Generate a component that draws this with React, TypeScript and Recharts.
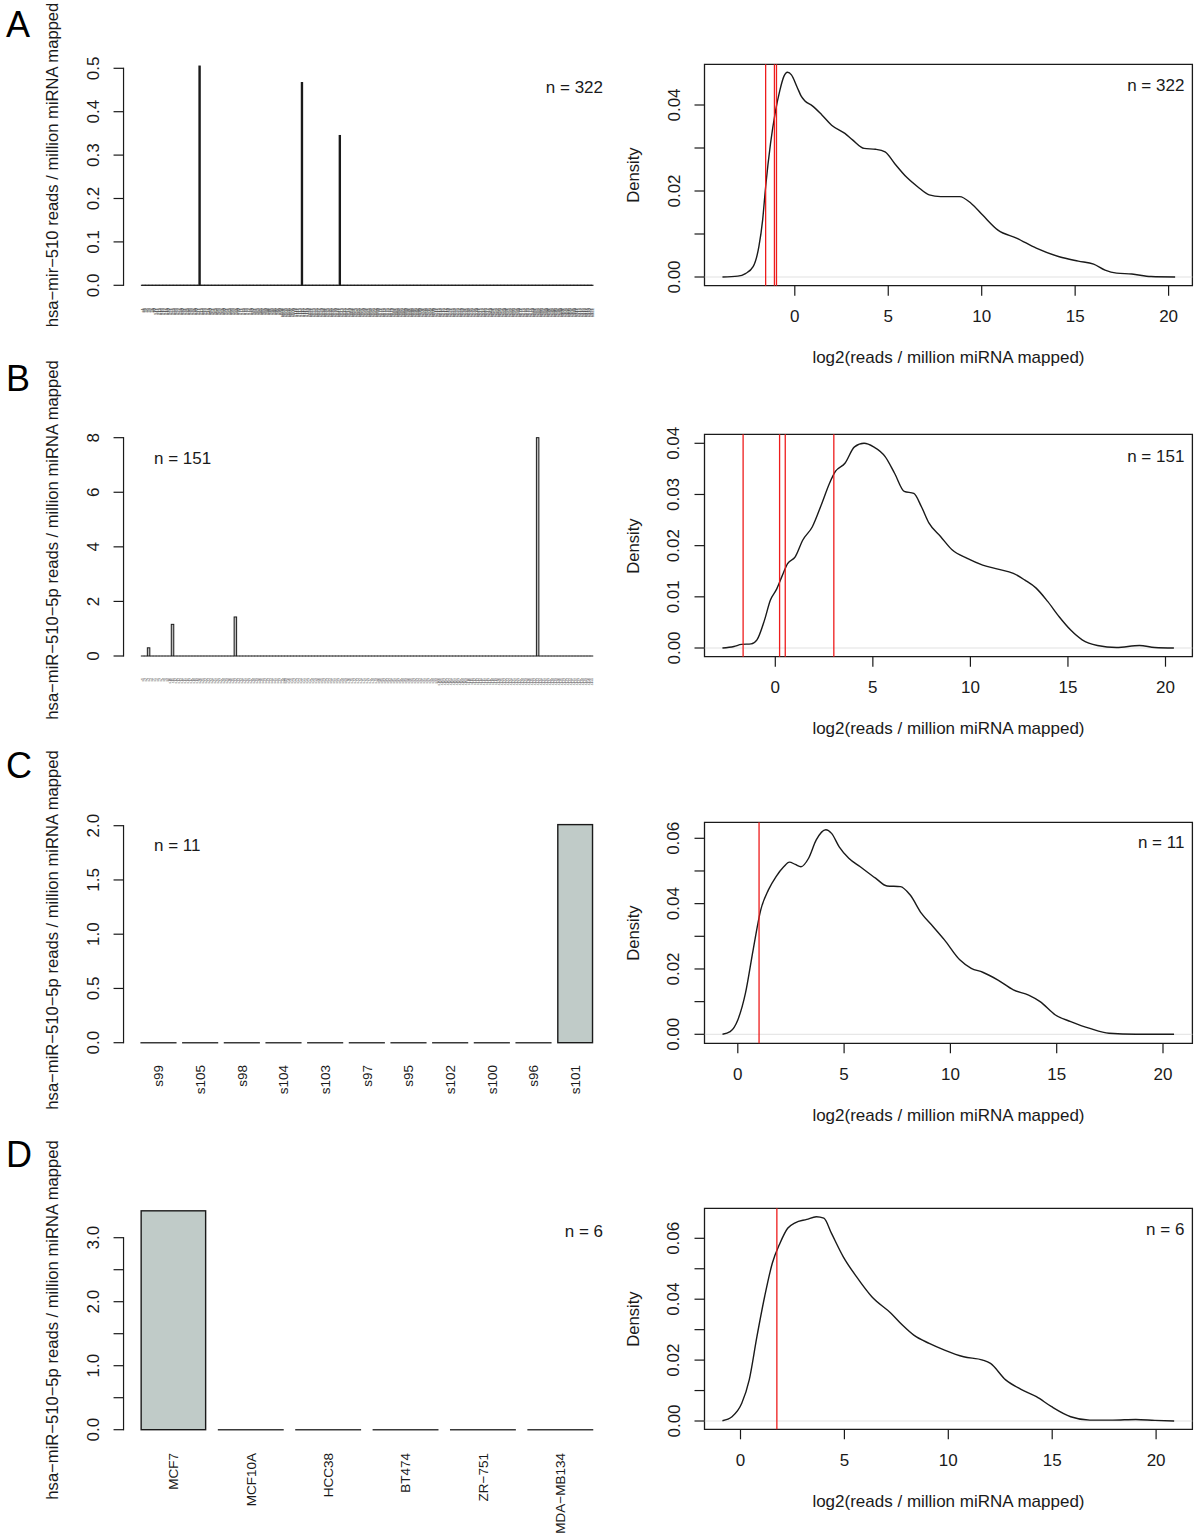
import React from "react";
import {
  BarChart,
  Bar,
  LineChart,
  Line,
  XAxis,
  YAxis,
  ReferenceLine,
  ReferenceArea,
} from "recharts";

const FONT = '"Liberation Sans", Arial, Helvetica, sans-serif';
const INK = "#1a1a1a";
const FS = 17;
const TITLE_FS = 16.6;

// ---------- data ----------

// A: hsa-mir-510, 322 samples, only three non-zero
const aSampleCount = 322;
const aHitIndex = [41, 114, 141];
const aHitValue = [0.505, 0.467, 0.345];
const aYTicks = [0, 0.1, 0.2, 0.3, 0.4, 0.5];
const aYLabels = ["0.0", "0.1", "0.2", "0.3", "0.4", "0.5"];
const aDensX = [
  -3.87, -3.05, -2.64, -2.23, -1.92, -1.72, -1.56, -1.3, -1.04, -0.8, -0.59,
  -0.39, -0.18, 0.12, 0.35, 0.53, 0.94, 1.45, 1.97, 2.68, 3.09, 3.71, 4.32,
  4.83, 5.34, 5.96, 6.57, 7.19, 7.8, 8.82, 9.44, 10.05, 10.87, 11.89, 12.92,
  14.15, 15.17, 15.99, 16.6, 17.22, 18.03, 19.06, 20.35,
];
const aDensY = [
  0, 0.0002, 0.0008, 0.0024, 0.0071, 0.0133, 0.021, 0.031, 0.0384, 0.0434,
  0.0466, 0.0476, 0.047, 0.0442, 0.042, 0.041, 0.0398, 0.0377, 0.0353, 0.0334,
  0.0319, 0.0299, 0.0297, 0.0291, 0.0264, 0.0233, 0.021, 0.0191, 0.0187,
  0.0187, 0.0171, 0.0144, 0.0109, 0.009, 0.0067, 0.0047, 0.0037, 0.003, 0.0016,
  0.0009, 0.0007, 0.0001, 0,
];
const aMarkers = [-1.56, -1.09, -0.98];

// B: hsa-miR-510-5p, 151 samples
const bSampleCount = 151;
const bHitIndex = [2, 10, 31, 132];
const bHitValue = [0.3, 1.16, 1.43, 8.0];
const bYTicks = [0, 2, 4, 6, 8];
const bYLabels = ["0", "2", "4", "6", "8"];
const bDensX = [
  -2.71, -2.12, -1.73, -1.24, -0.94, -0.55, -0.25, 0.04, 0.33, 0.63, 1.02,
  1.41, 1.9, 2.39, 2.78, 3.08, 3.57, 4.06, 4.55, 5.04, 5.63, 6.12, 6.61, 7.1,
  7.49, 7.88, 8.47, 9.06, 9.84, 10.63, 11.41, 12.2, 12.78, 13.37, 13.96, 14.55,
  15.14, 15.73, 16.51, 17.49, 18.67, 19.45, 20.43,
];
const bDensY = [
  0, 0.0003, 0.0007, 0.0008, 0.0016, 0.0055, 0.0094, 0.0113, 0.0139, 0.0165,
  0.0178, 0.0211, 0.0237, 0.0283, 0.0322, 0.0345, 0.0361, 0.0393, 0.04,
  0.0393, 0.0374, 0.0341, 0.0306, 0.0302, 0.0276, 0.0244, 0.0218, 0.0192,
  0.0175, 0.0162, 0.0154, 0.0146, 0.0133, 0.0117, 0.0091, 0.0061, 0.0035,
  0.0016, 0.0005, 0.0001, 0.0005, 0.0001, 0,
];
const bMarkers = [-1.65, 0.22, 0.51, 3.0];

// C: 11 samples
const cNames = ["s99", "s105", "s98", "s104", "s103", "s97", "s95", "s102", "s100", "s96", "s101"];
const cValues = [0, 0, 0, 0, 0, 0, 0, 0, 0, 0, 2.01];
const cYTicks = [0, 0.5, 1, 1.5, 2];
const cYLabels = ["0.0", "0.5", "1.0", "1.5", "2.0"];
const cDensX = [
  -0.72, -0.36, 0, 0.36, 0.72, 1.08, 1.44, 1.8, 2.16, 2.43, 2.7, 2.97, 3.33,
  3.69, 4.14, 4.41, 4.77, 5.22, 5.76, 6.48, 7.02, 7.65, 8.1, 8.64, 9.18, 9.72,
  10.44, 10.98, 11.52, 12.24, 12.96, 13.68, 14.22, 14.94, 15.66, 16.56, 17.46,
  18.72, 20.52,
];
const cDensY = [
  0, 0.0008, 0.0044, 0.0126, 0.0258, 0.0381, 0.0442, 0.0483, 0.0513, 0.0527,
  0.052, 0.0513, 0.0539, 0.0595, 0.0626, 0.0615, 0.0574, 0.0539, 0.0513,
  0.0478, 0.0454, 0.0452, 0.0427, 0.037, 0.033, 0.0289, 0.0228, 0.0202, 0.019,
  0.0166, 0.0136, 0.012, 0.01, 0.0059, 0.0039, 0.0018, 0.0003, 0, 0,
];
const cMarkers = [1.0];

// D: cell lines
const dNames = ["MCF7", "MCF10A", "HCC38", "BT474", "ZR\u2212751", "MDA\u2212MB134"];
const dValues = [3.42, 0, 0, 0, 0, 0];
const dYTicks = [0, 0.5, 1, 1.5, 2, 2.5, 3];
const dYLabels = ["0.0", "", "1.0", "", "2.0", "", "3.0"];
const dDensX = [
  -0.87, -0.41, 0.06, 0.42, 0.79, 1.16, 1.53, 1.9, 2.27, 2.63, 3.19, 3.65,
  4.01, 4.38, 4.94, 5.58, 6.32, 7.24, 7.79, 8.34, 9.08, 9.82, 10.74, 11.66,
  12.03, 12.76, 13.5, 14.24, 14.97, 15.89, 16.81, 17.92, 19.02, 19.94, 20.87,
];
const dDensY = [
  0.0001, 0.0014, 0.0058, 0.0135, 0.0277, 0.0408, 0.0518, 0.0584, 0.0633,
  0.0651, 0.0662, 0.0671, 0.0666, 0.0616, 0.054, 0.0474, 0.0408, 0.0354,
  0.0315, 0.0282, 0.0255, 0.0233, 0.0211, 0.02, 0.0189, 0.0135, 0.0104, 0.008,
  0.0047, 0.0014, 0.0003, 0.0003, 0.0005, 0.0002, 0,
];
const dMarkers = [1.75];

const densXTicks = [0, 5, 10, 15, 20];
const densTicks4 = [0, 0.01, 0.02, 0.03, 0.04];
const densTicks6 = [0, 0.01, 0.02, 0.03, 0.04, 0.05, 0.06];

// ---------- layout ----------
const BAR_LEFT = 141.6;
const BAR_RIGHT = 593;
const BOX_LEFT = 704.5;
const BOX_RIGHT = 1192.4;
const LEFT_W = 615;

const barRows = {
  A: { top: 0, height: 340, zeroPx: 285.3, ppu: 434, ymax: 0.505, labelTop: 308 },
  B: { top: 345, height: 390, zeroPx: 656, ppu: 27.29, ymax: 8.0, labelTop: 678 },
  C: { top: 740, height: 400, zeroPx: 1042.7, ppu: 108.5, ymax: 2.01, labelTop: 1065 },
  D: { top: 1140, height: 399, zeroPx: 1429.7, ppu: 64.0, ymax: 3.42, labelTop: 1453 },
};

const densRows = {
  A: { top: 0, height: 340, boxTop: 64.3, boxBottom: 285.7, zeroPx: 277, yppu: 4300, x0: 794.8, xppu: 18.69 },
  B: { top: 345, height: 390, boxTop: 434.3, boxBottom: 656.7, zeroPx: 648, yppu: 5117.5, x0: 775.3, xppu: 19.51 },
  C: { top: 740, height: 400, boxTop: 822.3, boxBottom: 1043.3, zeroPx: 1034.3, yppu: 3266.7, x0: 737.8, xppu: 21.26 },
  D: { top: 1140, height: 399, boxTop: 1208.3, boxBottom: 1429.3, zeroPx: 1421, yppu: 3045, x0: 740.5, xppu: 20.78 },
};

// ---------- helpers ----------
function sparse(count: number, idx: number[], vals: number[]) {
  return Array.from({ length: count }, (_, i) => {
    const k = idx.indexOf(i);
    return { name: "s" + (i + 1), value: k >= 0 ? vals[k] : 0 };
  });
}

function yTick(ticks: number[], labels: string[], axisSpan: number) {
  return (props: any) => {
    const { x, y, payload } = props;
    const i = ticks.findIndex((t) => Math.abs(t - payload.value) < 1e-9);
    const lab = labels[i];
    const lx = x - 30.5;
    return (
      <g>
        <line x1={x - 10} x2={x} y1={y} y2={y} stroke={INK} strokeWidth={1.2} />
        {i === 0 && axisSpan > 0 ? (
          <line x1={x} x2={x} y1={y + 0.6} y2={y - axisSpan - 0.6} stroke={INK} strokeWidth={1.2} />
        ) : null}
        {lab ? (
          <text
            x={lx}
            y={y}
            transform={`rotate(-90 ${lx} ${y})`}
            textAnchor="middle"
            dominantBaseline="central"
            fontSize={FS}
            fontFamily={FONT}
            fill={INK}
          >
            {lab}
          </text>
        ) : null}
      </g>
    );
  };
}

function nameTick(offset: number, size: number, color: string) {
  return (props: any) => {
    const { x, y, payload } = props;
    const ty = y + offset;
    return (
      <text
        x={x}
        y={ty}
        transform={`rotate(-90 ${x} ${ty})`}
        textAnchor="end"
        dominantBaseline="central"
        fontSize={size}
        fontFamily={FONT}
        fill={color}
      >
        {payload.value}
      </text>
    );
  };
}

function densXTick(props: any) {
  const { x, y, payload } = props;
  return (
    <g>
      <line x1={x} x2={x} y1={y} y2={y + 10} stroke={INK} strokeWidth={1.2} />
      <text x={x} y={y + 31} textAnchor="middle" dominantBaseline="central" fontSize={FS} fontFamily={FONT} fill={INK}>
        {payload.value}
      </text>
    </g>
  );
}

function barShape(fill: string, zeroColor: string, lineW: number) {
  return (p: any) => {
    const { x, y, width, height } = p;
    if (!height || Math.abs(height) < 0.01) {
      return (
        <line x1={x} x2={x + width} y1={y} y2={y} stroke={zeroColor} strokeWidth={lineW} strokeLinecap="square" />
      );
    }
    return <rect x={x} y={y} width={width} height={height} fill={fill} stroke={INK} strokeWidth={lineW} />;
  };
}

function BarPanel(props: {
  data: { name: string; value: number }[];
  row: { top: number; height: number; zeroPx: number; ppu: number; ymax: number; labelTop: number };
  yTicks: number[];
  yLabels: string[];
  labelSize: number;
  labelColor: string;
  fill: string;
  zeroColor: string;
  lineW: number;
}) {
  const { data, row } = props;
  const n = data.length;
  const span = BAR_RIGHT - BAR_LEFT;
  const w = span / (n + 0.2 * (n - 1));
  const ext = 0.04 * span;
  const pad = ext - 0.1 * w;
  const plotLeft = BAR_LEFT - ext;
  const plotRight = BAR_RIGHT + ext;
  const plotTop = row.zeroPx - 1.04 * row.ymax * row.ppu;
  const plotBottom = row.zeroPx + 0.04 * row.ymax * row.ppu;
  const axisSpan = props.yTicks[props.yTicks.length - 1] * row.ppu;
  return (
    <div style={{ position: "absolute", left: 0, top: row.top }}>
      <BarChart
        width={LEFT_W}
        height={row.height}
        data={data}
        margin={{ top: plotTop - row.top, right: LEFT_W - plotRight, bottom: 0, left: 0 }}
      >
        <XAxis
          dataKey="name"
          type="category"
          interval={0}
          axisLine={false}
          tickLine={false}
          tickSize={0}
          tickMargin={0}
          height={row.top + row.height - plotBottom}
          padding={{ left: pad, right: pad }}
          tick={nameTick(row.labelTop - plotBottom, props.labelSize, props.labelColor)}
        />
        <YAxis
          type="number"
          width={plotLeft}
          domain={[-0.04 * row.ymax, 1.04 * row.ymax]}
          allowDataOverflow
          ticks={props.yTicks}
          interval={0}
          axisLine={false}
          tickLine={false}
          tickSize={0}
          tickMargin={0}
          tick={yTick(props.yTicks, props.yLabels, axisSpan)}
        />
        <Bar
          dataKey="value"
          barSize={w}
          isAnimationActive={false}
          shape={barShape(props.fill, props.zeroColor, props.lineW)}
        />
      </BarChart>
    </div>
  );
}

function DensityPanel(props: {
  row: { top: number; height: number; boxTop: number; boxBottom: number; zeroPx: number; yppu: number; x0: number; xppu: number };
  xs: number[];
  ys: number[];
  markers: number[];
  yTicks: number[];
  yLabels: string[];
}) {
  const { row } = props;
  const data = props.xs.map((x, i) => ({ x, y: props.ys[i] }));
  const xDom = [(BOX_LEFT - row.x0) / row.xppu, (BOX_RIGHT - row.x0) / row.xppu];
  const yDom = [-(row.boxBottom - row.zeroPx) / row.yppu, (row.zeroPx - row.boxTop) / row.yppu];
  return (
    <div style={{ position: "absolute", left: 600, top: row.top }}>
      <LineChart
        width={600}
        height={row.height}
        data={data}
        margin={{ top: row.boxTop - row.top, right: 1200 - BOX_RIGHT, bottom: 0, left: 0 }}
      >
        <XAxis
          dataKey="x"
          type="number"
          domain={xDom}
          allowDataOverflow
          ticks={densXTicks}
          interval={0}
          axisLine={false}
          tickLine={false}
          tickSize={0}
          tickMargin={0}
          height={row.top + row.height - row.boxBottom}
          tick={densXTick}
        />
        <YAxis
          type="number"
          width={BOX_LEFT - 600}
          domain={yDom}
          allowDataOverflow
          ticks={props.yTicks}
          interval={0}
          axisLine={false}
          tickLine={false}
          tickSize={0}
          tickMargin={0}
          tick={yTick(props.yTicks, props.yLabels, 0)}
        />
        <ReferenceLine y={0} stroke="#d9d9d9" strokeWidth={0.8} />
        <Line dataKey="y" type="monotone" stroke={INK} strokeWidth={1.4} dot={false} isAnimationActive={false} />
        {props.markers.map((m) => (
          <ReferenceLine key={m} x={m} stroke="#ee1c1c" strokeWidth={1.3} />
        ))}
        <ReferenceArea
          x1={xDom[0]}
          x2={xDom[1]}
          y1={yDom[0]}
          y2={yDom[1]}
          fill="none"
          stroke={INK}
          strokeWidth={1.3}
          ifOverflow="visible"
        />
      </LineChart>
    </div>
  );
}

const txt: React.CSSProperties = {
  position: "absolute",
  fontFamily: FONT,
  fontSize: FS,
  color: INK,
  whiteSpace: "nowrap",
  lineHeight: "20px",
};

function VTitle({ x, y, text }: { x: number; y: number; text: string }) {
  return (
    <div style={{ ...txt, fontSize: TITLE_FS, left: x, top: y, transform: "translate(-50%, -50%) rotate(-90deg)" }}>
      {text}
    </div>
  );
}

function HText({ x, y, text, align, size }: { x: number; y: number; text: string; align: "left" | "right" | "center"; size?: number }) {
  const t = align === "left" ? "translate(0, -50%)" : align === "right" ? "translate(-100%, -50%)" : "translate(-50%, -50%)";
  return <div style={{ ...txt, fontSize: size ?? FS, left: x, top: y, transform: t }}>{text}</div>;
}

function Letter({ y, text }: { y: number; text: string }) {
  return (
    <div style={{ position: "absolute", left: 6, top: y, fontFamily: FONT, fontSize: 36, lineHeight: "36px", color: "#000" }}>
      {text}
    </div>
  );
}

const xTitle = "log2(reads / million miRNA mapped)";
const ylabA = "hsa\u2212mir\u2212510 reads / million miRNA mapped";
const ylab5p = "hsa\u2212miR\u2212510\u22125p reads / million miRNA mapped";

export default function App() {
  const aData = sparse(aSampleCount, aHitIndex, aHitValue);
  const bData = sparse(bSampleCount, bHitIndex, bHitValue);
  const cData = cNames.map((name, i) => ({ name, value: cValues[i] }));
  const dData = dNames.map((name, i) => ({ name, value: dValues[i] }));
  const boxMid = (BOX_LEFT + BOX_RIGHT) / 2;

  return (
    <div
      style={{
        position: "absolute",
        left: 0,
        top: 0,
        width: 1200,
        height: 1539,
        background: "#fff",
        overflow: "hidden",
        fontFamily: FONT,
      }}
    >
      <BarPanel data={aData} row={barRows.A} yTicks={aYTicks} yLabels={aYLabels} labelSize={4.3} labelColor="#444" fill={INK} zeroColor={INK} lineW={1.2} />
      <BarPanel data={bData} row={barRows.B} yTicks={bYTicks} yLabels={bYLabels} labelSize={3.4} labelColor="#444" fill="#bbbbbb" zeroColor={INK} lineW={1} />
      <BarPanel data={cData} row={barRows.C} yTicks={cYTicks} yLabels={cYLabels} labelSize={13.5} labelColor={INK} fill="#c0cbc8" zeroColor="#3a3a3a" lineW={1.4} />
      <BarPanel data={dData} row={barRows.D} yTicks={dYTicks} yLabels={dYLabels} labelSize={13.5} labelColor={INK} fill="#c0cbc8" zeroColor="#3a3a3a" lineW={1.4} />

      <DensityPanel row={densRows.A} xs={aDensX} ys={aDensY} markers={aMarkers} yTicks={densTicks4} yLabels={["0.00", "", "0.02", "", "0.04"]} />
      <DensityPanel row={densRows.B} xs={bDensX} ys={bDensY} markers={bMarkers} yTicks={densTicks4} yLabels={["0.00", "0.01", "0.02", "0.03", "0.04"]} />
      <DensityPanel row={densRows.C} xs={cDensX} ys={cDensY} markers={cMarkers} yTicks={densTicks6} yLabels={["0.00", "", "0.02", "", "0.04", "", "0.06"]} />
      <DensityPanel row={densRows.D} xs={dDensX} ys={dDensY} markers={dMarkers} yTicks={densTicks6} yLabels={["0.00", "", "0.02", "", "0.04", "", "0.06"]} />

      <Letter y={7} text="A" />
      <Letter y={361} text="B" />
      <Letter y={748} text="C" />
      <Letter y={1137} text="D" />

      <VTitle x={53} y={165} text={ylabA} />
      <VTitle x={53} y={540} text={ylab5p} />
      <VTitle x={53} y={930} text={ylab5p} />
      <VTitle x={53} y={1320} text={ylab5p} />

      <HText x={603} y={88.3} text="n = 322" align="right" />
      <HText x={154} y={459} text="n = 151" align="left" />
      <HText x={154} y={846} text="n = 11" align="left" />
      <HText x={603} y={1232} text="n = 6" align="right" />

      <HText x={1184.4} y={85.7} text="n = 322" align="right" />
      <HText x={1184.4} y={456.7} text="n = 151" align="right" />
      <HText x={1184.4} y={842.7} text="n = 11" align="right" />
      <HText x={1184.4} y={1230} text="n = 6" align="right" />

      {[densRows.A, densRows.B, densRows.C, densRows.D].map((r, i) => (
        <React.Fragment key={i}>
          <VTitle x={633.7} y={(r.boxTop + r.boxBottom) / 2} text="Density" />
          <HText x={boxMid} y={r.boxBottom + 72.6} text={xTitle} align="center" />
        </React.Fragment>
      ))}
    </div>
  );
}
